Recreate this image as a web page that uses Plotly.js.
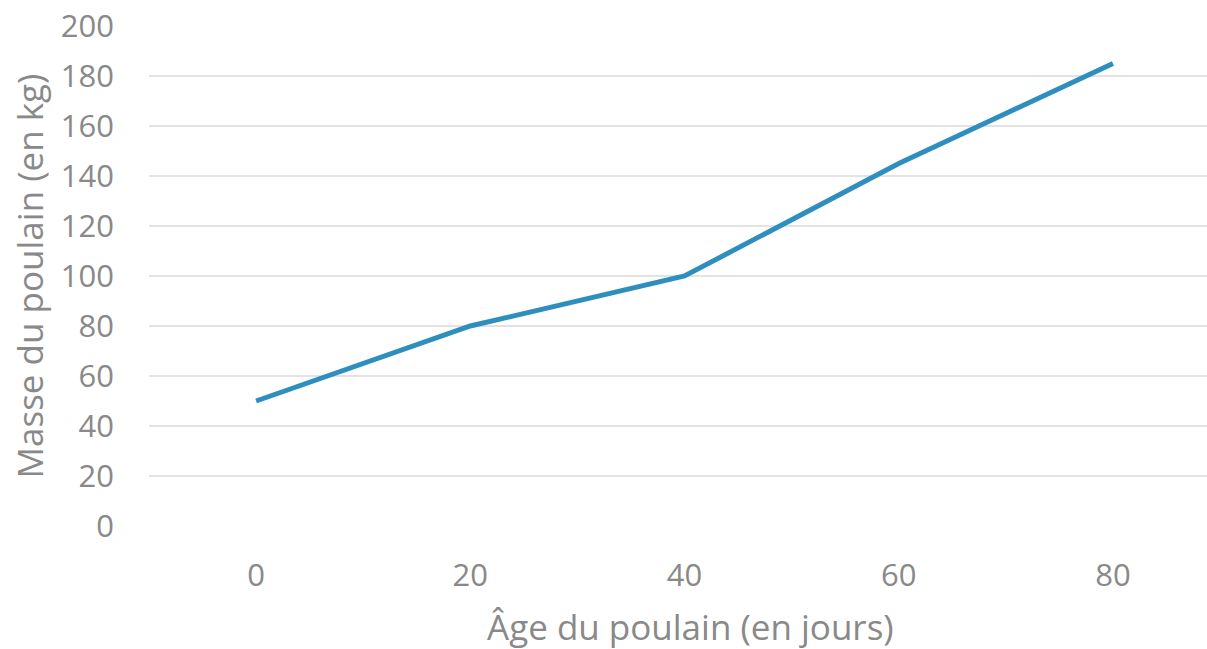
<!DOCTYPE html>
<html>
<head>
<meta charset="utf-8">
<script src="https://cdn.plot.ly/plotly-3.0.1.min.js"></script>
<style>html,body{margin:0;padding:0;background:#fff;}#chart{width:1207px;height:649px;}</style>
</head>
<body>
<div id="chart"></div>
<script>
const ages = [0, 20, 40, 60, 80];
const masses = [50, 80, 100, 145, 185];
const xTicks = [0, 20, 40, 60, 80];
const yTicks = [0, 20, 40, 60, 80, 100, 120, 140, 160, 180, 200];
const xTitle = 'Âge du poulain (en jours)';
const yTitle = 'Masse du poulain (en kg)';

const gray = '#898989';
const data = [{
  x: ages, y: masses, type: 'scatter', mode: 'lines',
  line: {color: '#2E8FBF', width: 5},
  hoverinfo: 'skip'
}];
const layout = {
  width: 1207, height: 649,
  margin: {l: 149, r: 0, t: 26, b: 123},
  paper_bgcolor: '#fff', plot_bgcolor: '#fff',
  font: {family: 'Open Sans, sans-serif', color: gray},
  showlegend: false,
  xaxis: {
    range: [-10, 88.78], tickvals: xTicks, ticktext: xTicks.map(String),
    showgrid: false, zeroline: false, showline: false, ticks: '',
    tickfont: {size: 31, color: gray}, ticklabelstandoff: 28
  },
  yaxis: {
    range: [0, 200], tickvals: yTicks, ticktext: yTicks.map(String),
    showgrid: true, gridcolor: '#e3e3e3', gridwidth: 1.5,
    zeroline: false, showline: false, ticks: '',
    tickfont: {size: 31, color: gray}, ticklabelstandoff: 34,
    title: {text: yTitle, font: {size: 35, color: gray}, standoff: 6}
  },
  annotations: [{
    text: xTitle, xref: 'x', yref: 'paper', x: 40.6, y: 0,
    xanchor: 'center', yanchor: 'middle', yshift: -100, showarrow: false,
    font: {size: 35, color: gray}
  }]
};
Plotly.newPlot('chart', data, layout, {displayModeBar: false, staticPlot: true});
</script>
</body>
</html>
